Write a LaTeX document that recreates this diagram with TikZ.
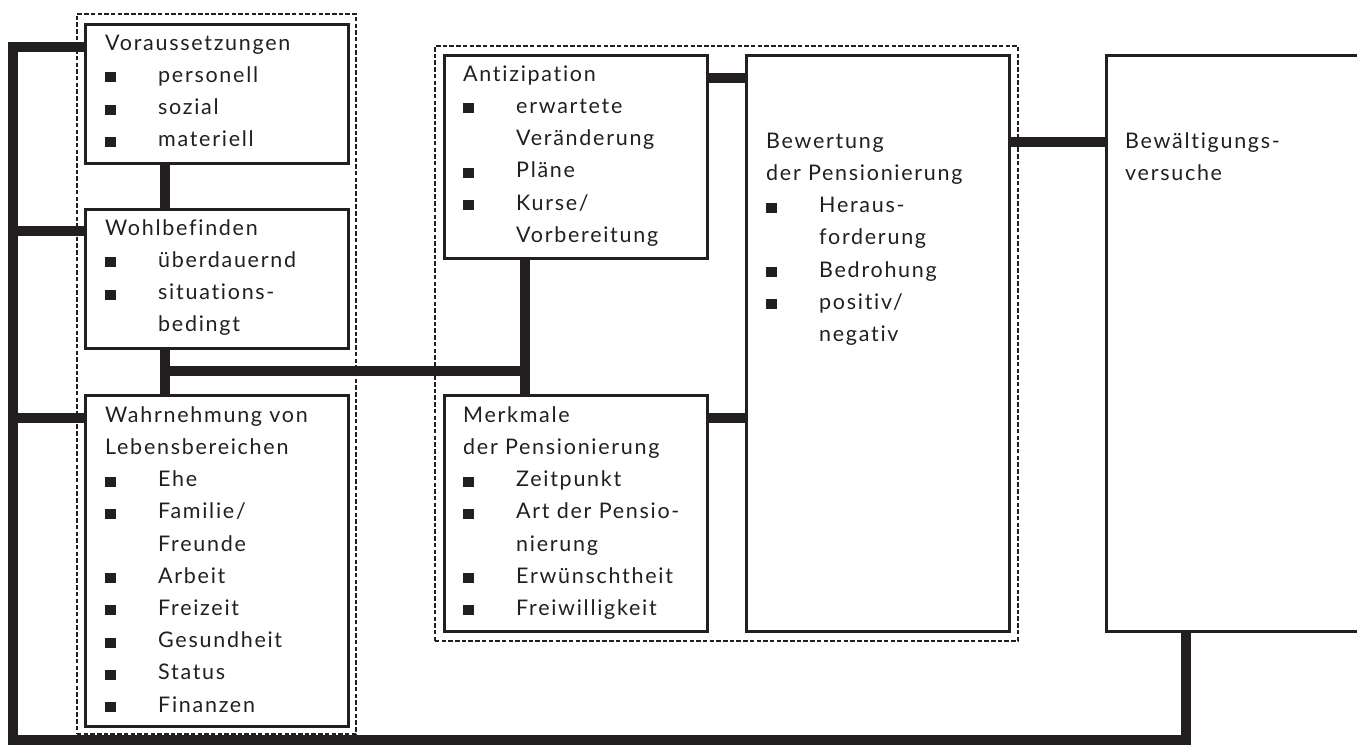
\documentclass[tikz,border=0pt]{standalone}
\usepackage{fontspec}
\setmainfont[LetterSpace=8,Ligatures={NoCommon}]{Lato}
\usetikzlibrary{calc}
\definecolor{ink}{HTML}{231F20}
\newcommand\bul[1]{\makebox[53pt][l]{\rule{11pt}{10pt}}#1}
\newcommand\cont[1]{\hspace*{53pt}#1}
\tikzset{
  box/.style={draw=ink, line width=2.8pt, fill=white, inner sep=0pt, anchor=north west},
  grp/.style={draw=ink, line width=1.8pt, dash pattern=on 4.5pt off 2.2pt, inner sep=0pt, anchor=north west},
  conn/.style={draw=ink, line width=10pt, line join=miter, line cap=butt},
  txt/.style={inner sep=0pt, anchor=north west, align=left, text=ink,
    font=\fontsize{21.5pt}{32.2pt}\selectfont},
}
\begin{document}
\begin{tikzpicture}[x=1pt,y=-1pt]
\clip (0,0) rectangle (1357,747);
\fill[white] (0,0) rectangle (1357,747);
% dashed groups
\node[grp, minimum width=279pt, minimum height=720pt] (g1) at (76,13) {};
\node[grp, minimum width=583pt, minimum height=595pt] (g2) at (434,45) {};
% connector points
\coordinate (lt) at (12.5,47);
\coordinate (lb) at (12.5,740);
\coordinate (rb) at (1185.5,740);
\coordinate (jl) at (165,371);
\coordinate (jr) at (524.5,371);
% connectors (drawn below boxes)
\draw[conn] (84,47) -- (lt) -- (lb) -- (rb) -- (1185.5,630);
\draw[conn] (12.5,231) -- (84,231);
\draw[conn] (12.5,418) -- (84,418);
\draw[conn] (165,162) -- (165,208);
\draw[conn] (165,347) -- (165,394);
\draw[conn] (jl) -- (jr);
\draw[conn] (524.5,257) -- (524.5,394);
\draw[conn] (706,77.5) -- (745,77.5);
\draw[conn] (706,418) -- (745,418);
\draw[conn] (1008,142) -- (1105,142);
% boxes
\node[box, minimum width=263pt, minimum height=139pt] (vor) at (84,23) {};
\node[box, minimum width=263pt, minimum height=139pt] (wohl) at (84,208) {};
\node[box, minimum width=263pt, minimum height=331pt] (wahr) at (84,394) {};
\node[box, minimum width=263pt, minimum height=203pt] (anti) at (443,54) {};
\node[box, minimum width=263pt, minimum height=236pt] (merk) at (443,394) {};
\node[box, minimum width=263pt, minimum height=576pt] (bew) at (745,54) {};
\node[box, minimum width=300pt, minimum height=576pt] (bewa) at (1105,54) {};
% texts
\node[txt] (vort) at (105,29) {\rule{0pt}{21pt}Voraussetzungen\\\bul{personell}\\\bul{sozial}\\\bul{materiell}};
\node[txt] (wohlt) at (105,214) {\rule{0pt}{21pt}Wohlbefinden\\\bul{überdauernd}\\\bul{situations-}\\\cont{bedingt}};
\node[txt] (wahrt) at (105,401) {\rule{0pt}{21pt}Wahrnehmung von\\Lebensbereichen\\\bul{Ehe}\\\bul{Familie/}\\\cont{Freunde}\\\bul{Arbeit}\\\bul{Freizeit}\\\bul{Gesundheit}\\\bul{Status}\\\bul{Finanzen}};
\node[txt] (antit) at (463,60) {\rule{0pt}{21pt}Antizipation\\\bul{erwartete}\\\cont{Veränderung}\\\bul{Pläne}\\\bul{Kurse/}\\\cont{Vorbereitung}};
\node[txt] (merkt) at (463,401) {\rule{0pt}{21pt}Merkmale\\der Pensionierung\\\bul{Zeitpunkt}\\\bul{Art der Pensio-}\\\cont{nierung}\\\bul{Erwünschtheit}\\\bul{Freiwilligkeit}};
\node[txt] (bewt) at (766,127) {\rule{0pt}{21pt}Bewertung\\der Pensionierung\\\bul{Heraus-}\\\cont{forderung}\\\bul{Bedrohung}\\\bul{positiv/}\\\cont{negativ}};
\node[txt] (bewat) at (1125,127) {\rule{0pt}{21pt}Bewältigungs-\\versuche};
\end{tikzpicture}
\end{document}
